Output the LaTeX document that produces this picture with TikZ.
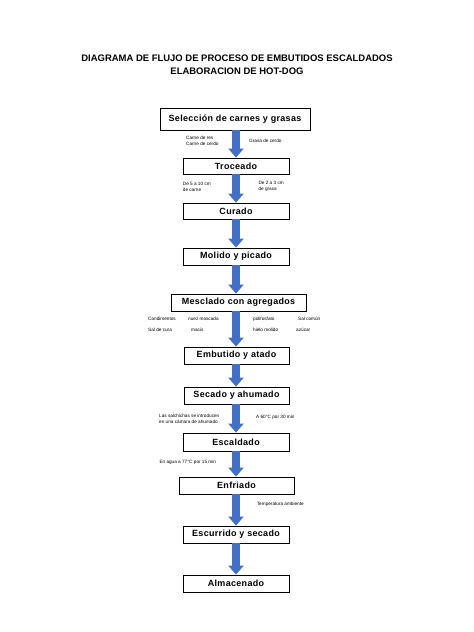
\documentclass[tikz,border=0pt]{standalone}
\usepackage{fontspec}
\setmainfont{Liberation Sans}
\newfontfamily\boxfont[LetterSpace=3.7]{Liberation Sans}
\usetikzlibrary{arrows.meta}
\definecolor{arrowblue}{RGB}{66,112,196}
\begin{document}
\begin{tikzpicture}[x=1bp,y=-1bp,
  stepbox/.style={draw=black, line width=0.8bp, fill=white, minimum height=17bp, minimum width=106bp, inner sep=0pt, font=\boxfont\fontsize{9}{10}\selectfont\bfseries},
  flow/.style={draw=arrowblue, line width=8bp, -{Triangle[width=15bp,length=9bp]}, arrowblue},
  note/.style={anchor=west, inner sep=0pt, font=\fontsize{4.7}{5.6}\selectfont, align=left},
  titletext/.style={inner sep=0pt, font=\fontsize{9.5}{11}\selectfont\bfseries}]
\useasboundingbox[fill=white] (0,0) rectangle (474,632);
\node[titletext] (t1) at (237,58) {DIAGRAMA DE FLUJO DE PROCESO DE EMBUTIDOS ESCALDADOS};
\node[titletext] (t2) at (237,71) {ELABORACION DE HOT-DOG};
% boxes
\node[stepbox, minimum width=150bp, minimum height=22bp] (s1) at (235,119) {Selección de carnes y grasas};
\node[stepbox, minimum height=16bp] (s2) at (236,166) {Troceado};
\node[stepbox, minimum height=16bp] (s3) at (236,211) {Curado};
\node[stepbox] (s4) at (236,256.5) {Molido y picado};
\node[stepbox, minimum width=135bp] (s5) at (238.5,302.5) {Mesclado con agregados};
\node[stepbox, minimum width=105bp] (s6) at (236.5,355.5) {Embutido y atado};
\node[stepbox, minimum width=105bp] (s7) at (236.5,395.5) {Secado y ahumado};
\node[stepbox, minimum height=18bp] (s8) at (236,442) {Escaldado};
\node[stepbox, minimum width=115bp] (s9) at (236.5,485.5) {Enfriado};
\node[stepbox] (s10) at (236,534.5) {Escurrido y secado};
\node[stepbox] (s11) at (236,583.5) {Almacenado};
% arrows
\draw[flow] (s1.south -| s2.south) -- (s2.north);
\draw[flow] (s2.south) -- (s3.north);
\draw[flow] (s3.south) -- (s4.north);
\draw[flow] (s4.south) -- (s4.south |- s5.north);
\draw[flow] (s5.south -| s4.south) -- (s4.south |- s6.north);
\draw[flow] (s6.south -| s4.south) -- (s4.south |- s7.north);
\draw[flow] (s7.south -| s4.south) -- (s8.north);
\draw[flow] (s8.south) -- (s8.south |- s9.north);
\draw[flow] (s9.south -| s8.south) -- (s10.north);
\draw[flow] (s10.south) -- (s11.north);
% notes
\node[note] (n1) at (186,141) {Carne de res\\Carne de cerdo};
\node[note] (n2) at (249,141.3) {Grasa de cerdo};
\node[note] (n3) at (182.7,186.7) {De 5 a 10 cm\\de carne};
\node[note] (n4) at (258.3,186.2) {De 2 a 3 cm\\de grasa};
\node[note] (m1) at (148,319) {Condimentos};
\node[note] (m2) at (188,319) {nuez moscada};
\node[note] (m3) at (253,319) {polifosfato};
\node[note] (m4) at (298,319) {Sal común};
\node[note] (m5) at (148,330) {Sal de cura};
\node[note] (m6) at (191,330) {macis};
\node[note] (m7) at (253,330) {hielo molido};
\node[note] (m8) at (296,330) {azúcar};
\node[note] (n5) at (159,418.7) {Las salchichas se introducen\\en una cámara de ahumado};
\node[note] (n6) at (256,417.7) {A 60°C por 30 min};
\node[note] (n7) at (159.3,462.3) {En agua a 77°C por 15 min};
\node[note] (n8) at (256.7,504.3) {Temperatura ambiente};
\end{tikzpicture}
\end{document}
